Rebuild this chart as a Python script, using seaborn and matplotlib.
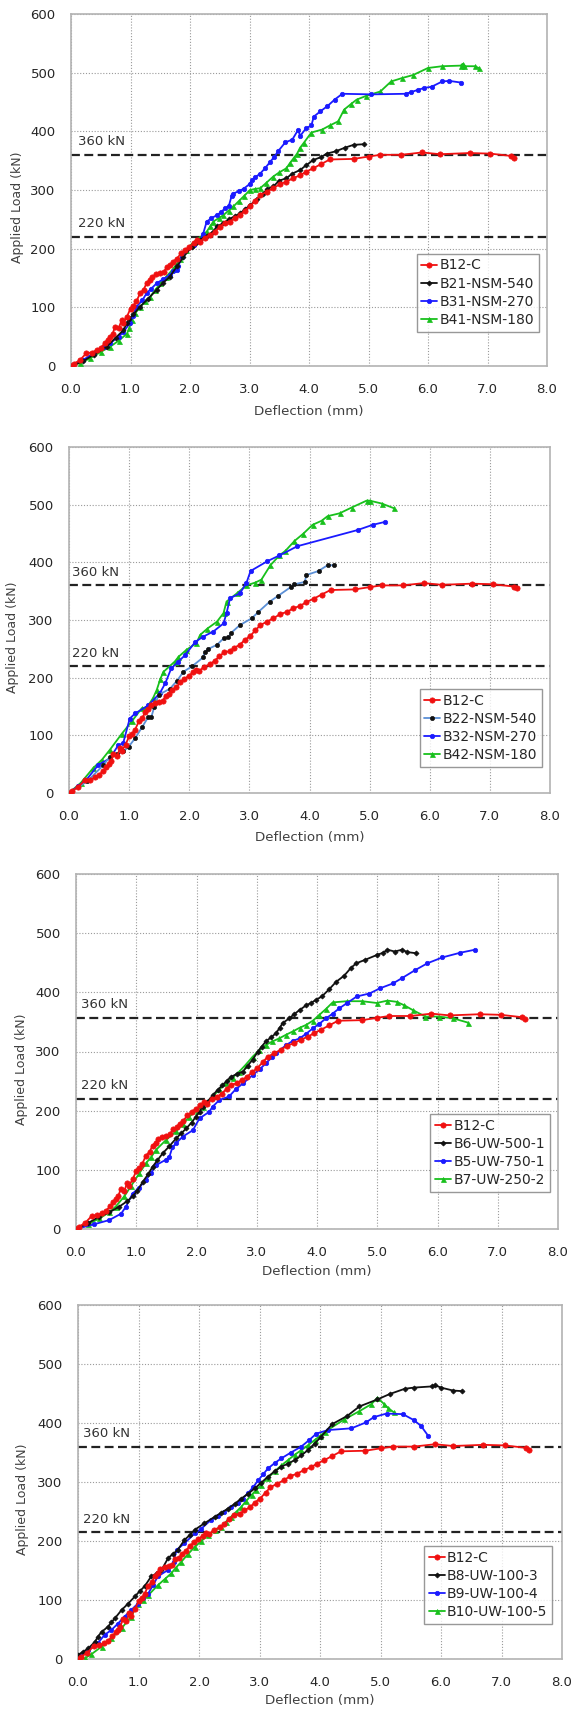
import matplotlib
matplotlib.use("Agg")
import matplotlib.pyplot as plt
import seaborn as sns
import pandas as pd

# ---------------- data ----------------
X_TICKS = [0.0, 1.0, 2.0, 3.0, 4.0, 5.0, 6.0, 7.0, 8.0]
Y_TICKS = [0, 100, 200, 300, 400, 500, 600]

B12C = [(0, 0), (0.05, 4), (0.15, 10), (0.26, 22), (0.35, 23), (0.43, 27), (0.5, 31), (0.57, 39),
        (0.62, 45), (0.66, 50), (0.7, 55), (0.74, 67), (0.8, 64), (0.85, 78), (0.88, 73), (0.94, 84),
        (1.0, 98), (1.05, 103), (1.1, 110), (1.16, 124), (1.22, 130), (1.27, 141), (1.32, 146),
        (1.36, 152), (1.43, 156), (1.5, 158), (1.56, 160), (1.61, 169), (1.67, 172), (1.72, 178),
        (1.78, 183), (1.85, 192), (1.92, 198), (1.99, 203), (2.06, 209), (2.12, 214), (2.17, 212),
        (2.25, 219), (2.34, 223), (2.42, 229), (2.5, 237), (2.58, 244), (2.67, 246), (2.75, 252),
        (2.84, 257), (2.92, 265), (3.01, 272), (3.1, 282), (3.18, 291), (3.29, 297), (3.4, 303),
        (3.51, 310), (3.62, 314), (3.73, 320), (3.85, 325), (3.95, 331), (4.07, 337), (4.2, 344),
        (4.35, 352), (4.75, 353), (5.0, 357), (5.2, 360), (5.55, 360), (5.9, 364), (6.2, 361),
        (6.7, 363), (7.05, 362), (7.4, 358), (7.45, 355)]

B21_NSM_540 = [(0, 0), (0.2, 8), (0.38, 19), (0.6, 33), (0.75, 48), (0.88, 61), (0.94, 73), (0.97, 80),
               (1.05, 88), (1.16, 101), (1.3, 115), (1.44, 130), (1.55, 142), (1.66, 152), (1.78, 170),
               (1.89, 186), (2.03, 203), (2.1, 210), (2.17, 215), (2.28, 222), (2.39, 229), (2.45, 238),
               (2.56, 243), (2.65, 250), (2.75, 255), (2.84, 260), (2.92, 267), (3.01, 274), (3.12, 284),
               (3.23, 294), (3.3, 302), (3.4, 306), (3.5, 316), (3.62, 320), (3.72, 328), (3.85, 334),
               (3.95, 342), (4.07, 351), (4.2, 356), (4.3, 362), (4.45, 366), (4.6, 372), (4.75, 377),
               (4.92, 378)]

B31_NSM_270 = [(0, 0), (0.2, 10), (0.38, 22), (0.55, 32), (0.66, 39), (0.8, 50), (0.88, 58), (0.99, 73),
               (1.04, 85), (1.1, 101), (1.2, 112), (1.27, 124), (1.35, 132), (1.44, 141), (1.55, 148),
               (1.66, 155), (1.72, 162), (1.78, 164), (1.8, 170), (1.86, 185), (1.94, 198), (2.06, 206),
               (2.17, 215), (2.22, 225), (2.28, 246), (2.36, 252), (2.45, 257), (2.52, 262), (2.59, 269),
               (2.65, 272), (2.7, 290), (2.73, 294), (2.82, 298), (2.9, 302), (3.0, 310), (3.04, 317),
               (3.1, 322), (3.18, 328), (3.26, 337), (3.34, 347), (3.42, 357), (3.48, 366), (3.6, 381),
               (3.72, 386), (3.82, 403), (3.85, 392), (3.95, 405), (4.04, 410), (4.08, 425), (4.19, 434),
               (4.31, 443), (4.43, 454), (4.56, 464), (5.05, 463), (5.63, 464), (5.72, 467), (5.84, 471),
               (5.94, 474), (6.06, 476), (6.24, 485), (6.36, 486), (6.56, 483)]

B41_NSM_180 = [(0, 0), (0.15, 5), (0.32, 13), (0.5, 24), (0.66, 33), (0.8, 43), (0.94, 55), (0.98, 65),
               (1.02, 78), (1.08, 90), (1.16, 101), (1.25, 110), (1.33, 118), (1.42, 130), (1.5, 141),
               (1.6, 152), (1.72, 166), (1.83, 182), (1.94, 198), (2.02, 207), (2.11, 215), (2.2, 222),
               (2.28, 229), (2.34, 238), (2.39, 246), (2.48, 252), (2.56, 257), (2.65, 265), (2.73, 272),
               (2.82, 281), (2.9, 289), (3.01, 300), (3.1, 302), (3.18, 303), (3.28, 312), (3.4, 323),
               (3.5, 330), (3.62, 337), (3.68, 346), (3.74, 354), (3.8, 362), (3.85, 372), (3.91, 380),
               (4.04, 398), (4.22, 403), (4.35, 410), (4.49, 417), (4.59, 437), (4.7, 446), (4.8, 454),
               (4.95, 460), (5.2, 468), (5.38, 485), (5.57, 491), (5.75, 496), (6.0, 508), (6.24, 511),
               (6.55, 512), (6.58, 515), (6.61, 511), (6.79, 511), (6.85, 508)]

B22_NSM_540 = [(0, 0), (0.3, 20), (0.57, 48), (0.68, 63), (0.8, 68), (0.9, 72), (0.99, 80), (1.1, 95),
               (1.22, 115), (1.32, 132), (1.37, 132), (1.42, 150), (1.49, 170), (1.68, 181), (1.8, 195),
               (1.9, 210), (2.05, 220), (2.23, 235), (2.26, 245), (2.32, 250), (2.46, 257), (2.57, 268),
               (2.65, 270), (2.7, 278), (2.84, 291), (3.04, 303), (3.15, 314), (3.34, 332), (3.48, 342),
               (3.7, 358), (3.75, 362), (3.92, 366), (3.95, 378), (4.15, 385), (4.3, 395), (4.4, 395)]

B32_NSM_270 = [(0, 0), (0.15, 12), (0.29, 23), (0.49, 49), (0.68, 60), (0.82, 83), (0.9, 86), (1.01, 129),
               (1.1, 138), (1.32, 152), (1.51, 173), (1.6, 190), (1.7, 216), (1.82, 228), (1.93, 239),
               (2.1, 262), (2.23, 271), (2.4, 280), (2.57, 294), (2.62, 312), (2.68, 338), (2.84, 346),
               (2.95, 364), (3.02, 385), (3.3, 402), (3.5, 412), (3.8, 428), (4.8, 456), (5.05, 465),
               (5.25, 470)]

B42_NSM_180 = [(0, 0), (0.2, 18), (0.4, 43), (0.55, 58), (0.68, 75), (0.88, 103), (1.05, 125), (1.21, 147),
               (1.27, 148), (1.32, 152), (1.4, 165), (1.46, 179), (1.52, 198), (1.57, 210), (1.76, 228),
               (1.82, 236), (1.95, 248), (2.12, 260), (2.18, 274), (2.3, 285), (2.46, 297), (2.57, 312),
               (2.62, 332), (2.79, 346), (2.95, 360), (3.1, 365), (3.2, 370), (3.35, 395), (3.5, 412),
               (3.6, 420), (3.75, 437), (3.9, 450), (4.05, 465), (4.2, 472), (4.3, 480), (4.5, 485),
               (4.7, 495), (4.95, 507), (5.0, 507), (5.2, 502), (5.4, 494)]

B6_UW_500_1 = [(0, 0), (0.2, 10), (0.39, 21), (0.55, 28), (0.72, 38), (0.85, 47), (0.94, 55), (1.02, 65),
               (1.11, 80), (1.2, 93), (1.27, 105), (1.35, 116), (1.44, 128), (1.55, 140), (1.66, 153),
               (1.75, 162), (1.83, 170), (1.92, 180), (1.99, 190), (2.05, 198), (2.1, 207), (2.18, 215),
               (2.27, 226), (2.35, 235), (2.43, 243), (2.5, 250), (2.57, 257), (2.67, 262), (2.77, 266),
               (2.85, 276), (2.93, 286), (3.02, 300), (3.08, 308), (3.15, 317), (3.24, 324), (3.32, 331),
               (3.38, 340), (3.43, 348), (3.54, 356), (3.62, 363), (3.71, 370), (3.82, 378), (3.9, 382),
               (3.98, 387), (4.08, 393), (4.2, 405), (4.32, 418), (4.45, 428), (4.56, 441), (4.65, 449),
               (4.8, 455), (4.99, 463), (5.1, 467), (5.17, 472), (5.29, 469), (5.41, 472), (5.5, 468),
               (5.65, 466)]

B5_UW_750_1 = [(0, 0), (0.3, 8), (0.55, 15), (0.75, 26), (0.83, 38), (0.94, 60), (1.05, 70), (1.16, 83),
               (1.25, 95), (1.33, 108), (1.49, 117), (1.55, 122), (1.6, 138), (1.66, 145), (1.77, 156),
               (1.94, 167), (2.05, 187), (2.21, 198), (2.27, 207), (2.38, 218), (2.54, 224), (2.65, 236),
               (2.77, 246), (2.93, 260), (3.05, 270), (3.15, 280), (3.25, 290), (3.32, 297), (3.49, 311),
               (3.6, 318), (3.71, 322), (3.82, 330), (3.93, 339), (4.04, 347), (4.15, 356), (4.26, 364),
               (4.37, 373), (4.5, 382), (4.66, 393), (4.87, 398), (5.05, 407), (5.26, 415), (5.41, 424),
               (5.62, 437), (5.83, 449), (6.08, 459), (6.38, 467), (6.62, 472)]

B7_UW_250_2 = [(0, 0), (0.2, 8), (0.39, 18), (0.55, 28), (0.66, 38), (0.8, 55), (0.91, 72), (1.05, 94),
               (1.16, 111), (1.25, 122), (1.33, 134), (1.49, 150), (1.66, 165), (1.78, 178), (1.88, 190),
               (2.0, 200), (2.1, 207), (2.27, 224), (2.38, 236), (2.49, 246), (2.6, 256), (2.71, 266),
               (2.82, 278), (2.93, 291), (3.04, 302), (3.15, 311), (3.26, 317), (3.37, 322), (3.48, 328),
               (3.6, 334), (3.71, 340), (3.82, 345), (3.93, 352), (4.04, 362), (4.15, 372), (4.26, 383),
               (4.5, 385), (4.75, 385), (4.99, 382), (5.17, 386), (5.32, 384), (5.45, 378), (5.59, 370),
               (5.8, 359), (6.02, 359), (6.26, 356), (6.5, 349)]

B8_UW_100_3 = [(0, 7), (0.08, 12), (0.17, 18), (0.28, 29), (0.33, 38), (0.39, 46), (0.5, 55), (0.55, 62),
               (0.61, 69), (0.72, 83), (0.83, 94), (0.94, 106), (1.02, 115), (1.1, 123), (1.21, 140),
               (1.3, 145), (1.38, 151), (1.49, 171), (1.57, 178), (1.65, 185), (1.76, 202), (1.85, 210),
               (1.93, 219), (2.09, 230), (2.26, 241), (2.37, 248), (2.48, 255), (2.59, 263), (2.7, 272),
               (2.81, 280), (2.92, 289), (3.03, 299), (3.14, 309), (3.25, 318), (3.36, 326), (3.47, 331),
               (3.58, 337), (3.69, 345), (3.8, 354), (3.91, 365), (4.02, 377), (4.2, 398), (4.45, 412),
               (4.65, 428), (4.95, 440), (5.15, 449), (5.4, 458), (5.55, 460), (5.85, 462), (5.9, 464),
               (6.0, 460), (6.2, 455), (6.35, 454)]

B9_UW_100_4 = [(0, 4), (0.17, 15), (0.33, 27), (0.44, 41), (0.55, 49), (0.66, 60), (0.77, 72), (0.88, 83),
               (0.99, 94), (1.08, 103), (1.16, 111), (1.24, 125), (1.32, 140), (1.49, 151), (1.58, 165),
               (1.63, 185), (1.76, 196), (1.93, 213), (2.04, 221), (2.2, 236), (2.31, 243), (2.42, 250),
               (2.53, 257), (2.64, 264), (2.72, 272), (2.81, 281), (2.9, 292), (2.98, 303), (3.06, 313),
               (3.14, 323), (3.25, 332), (3.36, 340), (3.52, 350), (3.69, 360), (3.82, 371), (3.94, 382),
               (4.13, 388), (4.52, 391), (4.76, 401), (4.89, 410), (5.1, 416), (5.37, 415), (5.55, 405),
               (5.67, 395), (5.79, 378)]

B10_UW_100_5 = [(0, 1), (0.11, 1), (0.22, 8), (0.39, 21), (0.55, 35), (0.72, 52), (0.88, 72), (0.99, 94),
                (1.08, 100), (1.16, 108), (1.32, 125), (1.43, 135), (1.54, 145), (1.62, 155), (1.71, 165),
                (1.82, 178), (1.93, 190), (2.04, 200), (2.15, 210), (2.26, 218), (2.37, 224), (2.45, 233),
                (2.53, 241), (2.62, 250), (2.7, 258), (2.78, 268), (2.87, 278), (2.95, 287), (3.03, 295),
                (3.14, 307), (3.25, 318), (3.36, 328), (3.47, 337), (3.58, 346), (3.69, 354), (3.8, 362),
                (3.91, 371), (4.0, 378), (4.08, 385), (4.4, 406), (4.65, 420), (4.85, 432), (4.95, 443),
                (5.05, 433), (5.12, 426), (5.22, 418)]

# reference load levels drawn in each panel (upper, lower)
REF_LINES = [(360, 220), (360, 220), (357, 220), (360, 215)]
REF_LABELS = ["360 kN", "220 kN"]

PANELS = [
    [("B12-C", B12C), ("B21-NSM-540", B21_NSM_540), ("B31-NSM-270", B31_NSM_270), ("B41-NSM-180", B41_NSM_180)],
    [("B12-C", B12C), ("B22-NSM-540", B22_NSM_540), ("B32-NSM-270", B32_NSM_270), ("B42-NSM-180", B42_NSM_180)],
    [("B12-C", B12C), ("B6-UW-500-1", B6_UW_500_1), ("B5-UW-750-1", B5_UW_750_1), ("B7-UW-250-2", B7_UW_250_2)],
    [("B12-C", B12C), ("B8-UW-100-3", B8_UW_100_3), ("B9-UW-100-4", B9_UW_100_4), ("B10-UW-100-5", B10_UW_100_5)],
]

# ---------------- style ----------------
sns.set_style("white")
plt.rcParams['font.family'] = ['DejaVu Sans']

RED, BLACK, BLUE, GREEN = "#f01010", "#111111", "#1a1aff", "#18c01c"
STEEL = "#5b8fd6"
# style per series slot: (line colour, marker, marker colour, marker size)
STYLES = [
    [(RED, "o", RED, 3.8), (BLACK, "D", BLACK, 2.6), (BLUE, "o", BLUE, 3.2), (GREEN, "^", GREEN, 3.6)],
    [(RED, "o", RED, 3.8), (STEEL, "o", BLACK, 3.0), (BLUE, "o", BLUE, 3.2), (GREEN, "^", GREEN, 3.6)],
    [(RED, "o", RED, 3.8), (BLACK, "D", BLACK, 2.6), (BLUE, "o", BLUE, 3.2), (GREEN, "^", GREEN, 3.6)],
    [(RED, "o", RED, 3.8), (BLACK, "D", BLACK, 2.6), (BLUE, "o", BLUE, 3.2), (GREEN, "^", GREEN, 3.6)],
]

# axes boxes in pixels: left, right, top, bottom
W, H = 574, 1711
BOXES = [(71, 547, 14, 366), (69, 550, 447, 793), (76, 558, 874, 1229), (78, 562, 1305, 1659)]
YLABEL_RIGHT = [24, 19, 28, 29]
XLABEL_GAP = [39, 38, 36, 35]
REF_TEXT_X = [0.12, 0.05, 0.08, 0.08]
LEG_ANCHOR = [(0.983, 0.097), (0.983, 0.075), (0.983, 0.104), (0.979, 0.099)]

fig = plt.figure(figsize=(W / 100, H / 100), dpi=100)
TXT = "#262626"

for i, series in enumerate(PANELS):
    l, r, t, b = BOXES[i]
    ax = fig.add_axes([l / W, (H - b) / H, (r - l) / W, (b - t) / H])
    for j, (name, pts) in enumerate(series):
        df = pd.DataFrame(pts, columns=["Deflection", "Load"])
        lc, mk, mc, ms = STYLES[i][j]
        sns.lineplot(data=df, x="Deflection", y="Load", ax=ax, sort=False, estimator=None,
                     color=lc, linewidth=1.3, marker=mk, markersize=ms,
                     markerfacecolor=mc, markeredgecolor=mc, markeredgewidth=0.5,
                     label=name, zorder=3 + (3 - j) * 0.1)
    for k, yv in enumerate(REF_LINES[i]):
        ax.axhline(yv, color="#222222", linewidth=1.6, linestyle=(0, (4, 2)), zorder=2)
        ax.text(REF_TEXT_X[i], yv + 11, REF_LABELS[k], fontsize=9.5, color="#333333",
                ha="left", va="bottom", zorder=4)
    ax.set_xlim(0, 8)
    ax.set_ylim(0, 600)
    ax.set_xticks(X_TICKS)
    ax.set_xticklabels([f"{v:.1f}" for v in X_TICKS])
    ax.set_yticks(Y_TICKS)
    ax.set_yticklabels([str(v) for v in Y_TICKS])
    ax.tick_params(axis="both", length=0, labelsize=9.5, colors=TXT)
    ax.tick_params(axis="x", pad=12.5)
    ax.tick_params(axis="y", pad=11)
    ax.grid(True, linestyle=(0, (1, 1.6)), color="#9a9a9a", linewidth=0.8, zorder=0)
    ax.set_axisbelow(True)
    for sp in ax.spines.values():
        sp.set_color("#b3b3b3")
        sp.set_linewidth(1.2)
    ax.set_xlabel("Deflection (mm)", fontsize=9.6, color="#404040")
    ax.set_ylabel("Applied Load (kN)", fontsize=9.0, color="#404040")
    ax.xaxis.set_label_coords(0.5, -XLABEL_GAP[i] / (b - t))
    ax.yaxis.set_label_coords((YLABEL_RIGHT[i] - l) / (r - l), 0.45)
    leg = ax.legend(loc="lower right", bbox_to_anchor=LEG_ANCHOR[i], borderaxespad=0,
                    fontsize=10, frameon=True, fancybox=False, handlelength=1.15,
                    handletextpad=0.15, borderpad=0.35, labelspacing=0.3, numpoints=1)
    leg.get_frame().set_edgecolor("#7f7f7f")
    leg.get_frame().set_linewidth(1.0)
    for txt in leg.get_texts():
        txt.set_color(TXT)

fig.savefig("out.png", dpi=100)
